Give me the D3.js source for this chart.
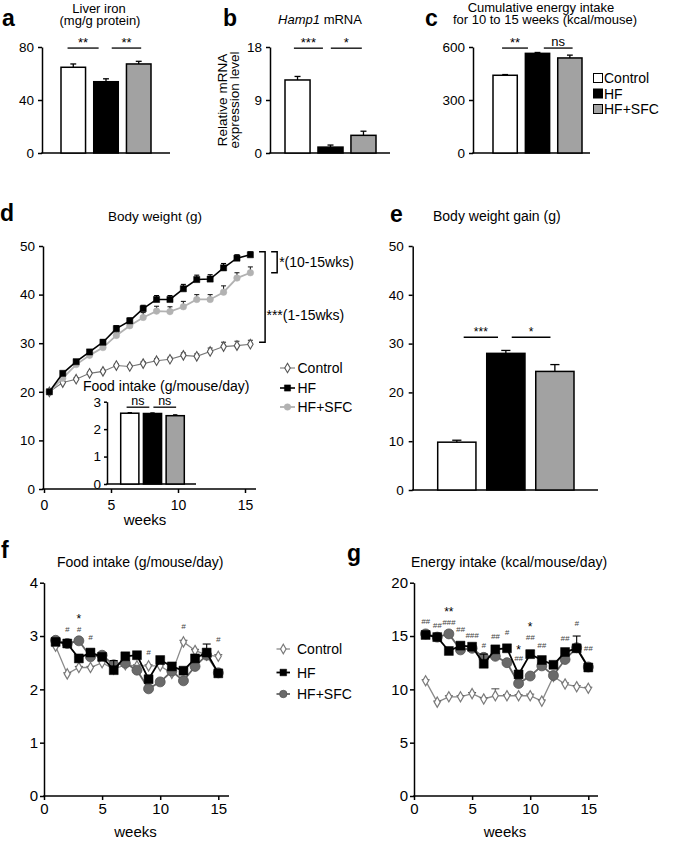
<!DOCTYPE html>
<html><head><meta charset="utf-8">
<script src="https://cdn.jsdelivr.net/npm/d3@7"></script>
<style>body{margin:0;background:#fff} svg{display:block}</style>
</head><body><svg id="c" width="685" height="844"></svg>
<script>
const FONT = '"Liberation Sans", Arial, Helvetica, sans-serif';
const groups = ["Control", "HF", "HF+SFC"];
const barFill = {"Control": "#ffffff", "HF": "#000000", "HF+SFC": "#a2a2a2"};

// a: liver iron
const liverIron = [64.7, 53.8, 67.2];
const liverIronErr = [2.5, 2.2, 2.0];
const liverTicks = [0, 40, 80];
const liverSig = [{a: 0.2, b: 1.15, y: 79.2, label: "**"}, {a: 1.55, b: 2.45, y: 79.2, label: "**"}];
// b: Hamp1
const hamp1 = [12.4, 1.0, 3.0];
const hamp1Err = [0.6, 0.35, 0.7];
const hampTicks = [0, 9, 18];
const hampSig = [{a: 0.27, b: 1.15, y: 17.8, label: "***"}, {a: 1.39, b: 2.33, y: 17.8, label: "*"}];
// c: cumulative energy
const cumEnergy = [440, 564, 538];
const cumEnergyErr = [4, 5, 16];
const cumTicks = [0, 300, 600];
const cumSig = [{a: 0.28, b: 1.08, y: 594, label: "**"}, {a: 1.57, b: 2.46, y: 594, label: "ns"}];
// d: body weight
const bwWeeks = [0.4, 1.4, 2.4, 3.4, 4.4, 5.4, 6.4, 7.4, 8.4, 9.4, 10.4, 11.4, 12.4, 13.4, 14.4, 15.4];
const bwControl = [20, 21.9, 22.6, 23.8, 24.2, 25.4, 25.2, 25.8, 26.4, 26.7, 27.5, 27.3, 28.3, 29.3, 29.5, 29.8];
const bwHF = [20, 23.8, 26.2, 28.2, 30.2, 33.0, 34.6, 37.1, 39.0, 39.0, 41.2, 43.1, 43.2, 45.5, 47.5, 48.2];
const bwSFC = [20, 22.8, 25.6, 27.5, 29.1, 31.6, 33.6, 35.3, 36.6, 36.5, 37.5, 39.0, 39.0, 40.5, 43.4, 44.5];
const bwControlErr = [0.2, 0.3, 0.3, 0.3, 0.3, 0.3, 0.3, 0.4, 0.4, 0.4, 0.5, 0.5, 0.7, 0.9, 0.9, 0.8];
const bwHFErr = [0.2, 0.4, 0.4, 0.5, 0.5, 0.6, 0.6, 0.7, 0.8, 0.8, 0.9, 0.9, 0.9, 0.9, 0.7, 0.6];
const bwSFCErr = [0.2, 0.4, 0.5, 0.5, 0.6, 0.7, 0.8, 1.0, 1.0, 1.0, 1.1, 1.0, 1.0, 1.3, 1.1, 1.2];
const bwYTicks = [0, 10, 20, 30, 40, 50];
const weekTicks = [0, 5, 10, 15];
// d inset: food intake
const foodMean = [2.58, 2.57, 2.49];
const foodMeanErr = [0.02, 0.02, 0.03];
const foodTicks = [0, 1, 2, 3];
const foodSig = [{a: 0.26, b: 1.26, y: 2.8, label: "ns"}, {a: 1.44, b: 2.44, y: 2.8, label: "ns"}];
// e: body weight gain
const bwGain = [9.8, 28.0, 24.3];
const bwGainErr = [0.4, 0.6, 1.4];
const gainTicks = [0, 10, 20, 30, 40, 50];
const gainSig = [{a: 0.53, b: 1.23, y: 31.3, label: "***"}, {a: 1.51, b: 2.30, y: 31.3, label: "*"}];
// f: weekly food intake
const weeksFG = [1, 2, 3, 4, 5, 6, 7, 8, 9, 10, 11, 12, 13, 14, 15];
const foodCtrl = [2.81, 2.29, 2.41, 2.41, 2.50, 2.38, 2.46, 2.44, 2.44, 2.44, 2.30, 2.89, 2.73, 2.64, 2.62];
const foodHF = [2.89, 2.86, 2.58, 2.69, 2.61, 2.36, 2.62, 2.64, 2.19, 2.55, 2.43, 2.35, 2.58, 2.69, 2.30];
const foodSFC = [2.92, 2.86, 2.91, 2.61, 2.64, 2.46, 2.49, 2.36, 2.01, 2.14, 2.34, 2.16, 2.43, 2.64, 2.31];
const foodCtrlErr = [0.02, 0.02, 0.02, 0.02, 0.02, 0.03, 0.02, 0.02, 0.02, 0.02, 0.02, 0.03, 0.02, 0.03, 0.03];
const foodHFErr = [0.03, 0.03, 0.03, 0.03, 0.03, 0.18, 0.03, 0.03, 0.04, 0.05, 0.03, 0.04, 0.03, 0.16, 0.04];
const foodSFCErr = [0.03, 0.03, 0.03, 0.03, 0.03, 0.05, 0.03, 0.03, 0.03, 0.03, 0.03, 0.03, 0.03, 0.05, 0.03];
const foodWkTicks = [0, 1, 2, 3, 4];
const foodMarks = [
  {w: 2, y: 3.13, label: "#"}, {w: 3, y: 3.13, label: "#"}, {w: 3, y: 3.37, label: "*"},
  {w: 4, y: 2.98, label: "#"}, {w: 9, y: 2.70, label: "#"}, {w: 12, y: 3.19, label: "#"}, {w: 15, y: 2.95, label: "#"}
];
// g: weekly energy intake
const energyCtrl = [10.8, 8.8, 9.3, 9.3, 9.6, 9.1, 9.4, 9.4, 9.4, 9.4, 8.9, 11.2, 10.5, 10.25, 10.1];
const energyHF = [15.1, 14.9, 13.6, 14.1, 14.0, 12.4, 13.75, 13.85, 11.4, 13.3, 12.75, 12.3, 13.5, 13.85, 12.05];
const energySFC = [15.2, 14.9, 15.2, 13.7, 13.85, 13.0, 13.1, 12.5, 10.55, 11.25, 12.2, 11.3, 12.8, 13.9, 12.1];
const energyCtrlErr = [0.1, 0.1, 0.1, 0.1, 0.1, 0.1, 0.65, 0.1, 0.1, 0.15, 0.1, 0.1, 0.1, 0.1, 0.1];
const energyHFErr = [0.2, 0.15, 0.15, 0.15, 0.15, 0.9, 0.2, 0.15, 0.2, 0.35, 0.2, 0.2, 0.2, 1.15, 0.2];
const energySFCErr = [0.15, 0.15, 0.15, 0.15, 0.15, 0.3, 0.15, 0.15, 0.2, 0.2, 0.2, 0.2, 0.2, 0.2, 0.2];
const energyTicks = [0, 5, 10, 15, 20];
const energyMarks = [
  {w: 1, y: 16.4, label: "##"}, {w: 2, y: 16.0, label: "##"}, {w: 3, y: 17.5, label: "**"}, {w: 3, y: 16.3, label: "###"},
  {w: 4, y: 15.65, label: "##"}, {w: 5, y: 15.1, label: "###"}, {w: 6, y: 14.2, label: "#"}, {w: 7, y: 15.0, label: "##"},
  {w: 8, y: 15.4, label: "#"}, {w: 9, y: 14.0, label: "*"}, {w: 9, y: 12.9, label: "##"}, {w: 10, y: 16.1, label: "*"},
  {w: 10, y: 14.9, label: "##"}, {w: 11, y: 14.15, label: "##"}, {w: 13, y: 14.8, label: "##"}, {w: 14, y: 16.2, label: "#"},
  {w: 15, y: 13.85, label: "##"}
];

const svg = d3.select("#c").attr("font-family", FONT);

function txt(x, y, s, o = {}) {
  const t = svg.append("text").attr("x", x).attr("y", y).text(s)
    .attr("font-size", o.size || 13).attr("text-anchor", o.anchor || "start").attr("fill", o.fill || "#000");
  if (o.weight) t.attr("font-weight", o.weight);
  if (o.style) t.attr("font-style", o.style);
  return t;
}
function styleAxis(sel, fs) {
  sel.attr("font-family", FONT);
  sel.selectAll("path.domain").attr("stroke", "#000").attr("stroke-width", 1.5);
  sel.selectAll(".tick line").attr("stroke", "#000").attr("stroke-width", 1.5);
  sel.selectAll(".tick text").attr("font-size", fs).attr("fill", "#000");
}
function hline(x1, x2, y, w = 1.5, c = "#000") {
  svg.append("line").attr("x1", x1).attr("x2", x2).attr("y1", y).attr("y2", y).attr("stroke", c).attr("stroke-width", w);
}
function vline(x, y1, y2, w = 1.5, c = "#000") {
  svg.append("line").attr("x1", x).attr("x2", x).attr("y1", y1).attr("y2", y2).attr("stroke", c).attr("stroke-width", w);
}
const intFmt = d3.format("d");

function barPanel(o) {
  const y = d3.scaleLinear().domain([0, o.max]).range([o.yb, o.yt]);
  const x = d3.scaleBand().domain(groups).range(o.xr).paddingInner(o.pi).paddingOuter(0);
  const ax = svg.append("g").attr("transform", `translate(${o.ax},0)`)
    .call(d3.axisLeft(y).tickValues(o.ticks).tickFormat(intFmt).tickSize(o.ts || 4).tickPadding(o.tp || 4).tickSizeOuter(0));
  styleAxis(ax, o.fs || 13.5);
  hline(o.ax - 0.75, o.xEnd, y(0));
  const bw = x.bandwidth();
  groups.forEach((k, i) => {
    const v = o.values[i], e = o.errors[i], cx = x(k) + bw / 2;
    svg.append("rect").attr("x", x(k)).attr("y", y(v)).attr("width", bw).attr("height", y(0) - y(v))
      .attr("fill", barFill[k]).attr("stroke", "#000").attr("stroke-width", 1.5);
    vline(cx, y(v), y(v + e), 1.3);
    hline(cx - bw * 0.12, cx + bw * 0.12, y(v + e), 1.3);
  });
  const bx = v => x(groups[0]) + v * x.step();
  o.sigs.forEach(s => {
    hline(bx(s.a), bx(s.b), y(s.y), 1.3);
    const isStar = s.label.indexOf("*") >= 0;
    txt((bx(s.a) + bx(s.b)) / 2, y(s.y) - (isStar ? 1 : 2.5), s.label, {anchor: "middle", size: o.sigSize || 13});
  });
  return {x, y};
}

// ---------- Panel a ----------
txt(2, 25.5, "a", {size: 23, weight: "bold"});
txt(99, 13, "Liver iron", {anchor: "middle", size: 13});
txt(100, 25, "(mg/g protein)", {anchor: "middle", size: 13});
barPanel({max: 80, yb: 153, yt: 47, xr: [61, 151], pi: 0.25, ax: 42, xEnd: 170, ticks: liverTicks,
  values: liverIron, errors: liverIronErr, sigs: liverSig});

// ---------- Panel b ----------
txt(223, 25.5, "b", {size: 23, weight: "bold"});
const tb = txt(320, 24, "", {anchor: "middle", size: 13});
tb.append("tspan").attr("font-style", "italic").text("Hamp1");
tb.append("tspan").text(" mRNA");
barPanel({max: 18, yb: 153, yt: 47, xr: [285, 376], pi: 0.24, ax: 270, xEnd: 390, ticks: hampTicks,
  values: hamp1, errors: hamp1Err, sigs: hampSig});
svg.append("text").attr("transform", "translate(227,100) rotate(-90)").attr("text-anchor", "middle")
  .attr("font-size", 13.5).text("Relative mRNA");
svg.append("text").attr("transform", "translate(238.5,100) rotate(-90)").attr("text-anchor", "middle")
  .attr("font-size", 13.5).text("expression level");

// ---------- Panel c ----------
txt(425, 25.5, "c", {size: 23, weight: "bold"});
txt(541, 12, "Cumulative energy intake", {anchor: "middle", size: 13});
txt(545, 24, "for 10 to 15 weeks (kcal/mouse)", {anchor: "middle", size: 13});
barPanel({max: 600, yb: 153, yt: 47, xr: [493, 582], pi: 0.25, ax: 473, xEnd: 590, ticks: cumTicks,
  values: cumEnergy, errors: cumEnergyErr, sigs: cumSig});
groups.forEach((k, i) => {
  const cy = 78 + i * 15.5;
  svg.append("rect").attr("x", 593.5).attr("y", cy - 4.5).attr("width", 9).attr("height", 9)
    .attr("fill", barFill[k]).attr("stroke", "#000").attr("stroke-width", 1);
  txt(604, cy + 5, k, {size: 14});
});

// ---------- Panel d ----------
txt(0, 221, "d", {size: 23, weight: "bold"});
txt(155, 220.5, "Body weight (g)", {anchor: "middle", size: 13.5});
const xD = d3.scaleLinear().domain([0, 15]).range([44, 245]);
const yD = d3.scaleLinear().domain([0, 50]).range([489, 246]);
const axDy = svg.append("g").attr("transform", "translate(43,0)")
  .call(d3.axisLeft(yD).tickValues(bwYTicks).tickFormat(intFmt).tickSize(4).tickPadding(4).tickSizeOuter(0));
styleAxis(axDy, 13.5);
const axDx = svg.append("g").attr("transform", "translate(0,489)")
  .call(d3.axisBottom(xD).tickValues(weekTicks).tickFormat(intFmt).tickSize(4).tickPadding(7).tickSizeOuter(0));
styleAxis(axDx, 14);
axDx.select("path.domain").remove();
hline(42.3, 256, 489);
txt(145, 525, "weeks", {anchor: "middle", size: 15});

function series(xs, ys, errs) { return xs.map((w, i) => ({w, v: ys[i], e: errs[i]})); }
function drawSeries(xS, yS, data, st) {
  const line = d3.line().x(d => xS(d.w)).y(d => yS(d.v));
  svg.append("path").datum(data).attr("d", line).attr("fill", "none").attr("stroke", st.line).attr("stroke-width", st.lw);
  data.forEach(d => {
    const cx = xS(d.w), y0 = yS(d.v), y1 = yS(d.v + d.e);
    vline(cx, y0, y1, 1.1, st.err);
    hline(cx - st.cap, cx + st.cap, y1, 1.1, st.err);
  });
  const sym = d3.symbol().type(st.sym).size(st.size);
  svg.append("g").selectAll("path").data(data).join("path")
    .attr("transform", d => `translate(${xS(d.w)},${yS(d.v)})`).attr("d", sym)
    .attr("fill", st.fill).attr("stroke", st.stroke).attr("stroke-width", st.sw);
}
const stD = {
  "Control": {line: "#777", lw: 1.1, sym: d3.symbolDiamond, size: 26, fill: "#fff", stroke: "#555", sw: 1.1, err: "#333", cap: 2.5},
  "HF": {line: "#000", lw: 1.6, sym: d3.symbolSquare, size: 38, fill: "#000", stroke: "#000", sw: 0.5, err: "#000", cap: 2.5},
  "HF+SFC": {line: "#b2b2b2", lw: 1.8, sym: d3.symbolCircle, size: 34, fill: "#b2b2b2", stroke: "#b2b2b2", sw: 0.5, err: "#222", cap: 2.5}
};
drawSeries(xD, yD, series(bwWeeks, bwControl, bwControlErr), stD["Control"]);
drawSeries(xD, yD, series(bwWeeks, bwSFC, bwSFCErr), stD["HF+SFC"]);
drawSeries(xD, yD, series(bwWeeks, bwHF, bwHFErr), stD["HF"]);
// brackets
function bracket(xa, xb, va, vb) {
  const p = `M${xD(xa)},${yD(va)}H${xD(xb)}V${yD(vb)}H${xD(xa)}`;
  svg.append("path").attr("d", p).attr("fill", "none").attr("stroke", "#000").attr("stroke-width", 1.5);
}
bracket(16.05, 16.5, 48.8, 30.2);
bracket(16.95, 17.4, 48.8, 44.5);
txt(xD(17.55), yD(46.65) + 5, "*(10-15wks)", {size: 14});
txt(xD(16.6), yD(35.8) + 5, "***(1-15wks)", {size: 14});
// legend d
groups.forEach((k, i) => {
  const cy = [368, 388, 407][i];
  const st = stD[k];
  hline(280, 295, cy, st.lw, st.line);
  svg.append("path").attr("transform", `translate(287.5,${cy})`).attr("d", d3.symbol().type(st.sym).size(st.size))
    .attr("fill", st.fill).attr("stroke", st.stroke).attr("stroke-width", st.sw);
  txt(297.5, cy + 5, k, {size: 14});
});
// inset
txt(83, 391, "Food intake (g/mouse/day)", {size: 14});
barPanel({max: 3, yb: 484, yt: 401.7, xr: [120.7, 184.3], pi: 0.2, ax: 107, xEnd: 196, ticks: foodTicks,
  values: foodMean, errors: foodMeanErr, sigs: foodSig, ts: 3, tp: 3, fs: 13.5, sigSize: 12.5});

// ---------- Panel e ----------
txt(390, 221.5, "e", {size: 23, weight: "bold"});
txt(433, 221, "Body weight gain (g)", {size: 14});
barPanel({max: 50, yb: 490, yt: 246, xr: [437.7, 574], pi: 0.22, ax: 412.7, xEnd: 598, ticks: gainTicks,
  values: bwGain, errors: bwGainErr, sigs: gainSig, tp: 5, fs: 13.5, sigSize: 12});

// ---------- Panels f & g ----------
const stFG = {
  "Control": {line: "#8a8a8a", lw: 1.3, sym: d3.symbolDiamond, size: 30, fill: "#fff", stroke: "#7a7a7a", sw: 1.2, err: "#555", cap: 4},
  "HF": {line: "#000", lw: 1.8, sym: d3.symbolSquare, size: 80, fill: "#000", stroke: "#000", sw: 0.5, err: "#000", cap: 4},
  "HF+SFC": {line: "#666", lw: 1.8, sym: d3.symbolCircle, size: 78, fill: "#6a6a6a", stroke: "#555", sw: 0.8, err: "#333", cap: 4}
};
function linePanel(o) {
  const x = d3.scaleLinear().domain([0, 15]).range(o.xr);
  const y = d3.scaleLinear().domain([0, o.max]).range([796, 582.7]);
  const ay = svg.append("g").attr("transform", `translate(${o.xr[0]},0)`)
    .call(d3.axisLeft(y).tickValues(o.ticks).tickFormat(intFmt).tickSize(4).tickPadding(2).tickSizeOuter(0));
  styleAxis(ay, 15);
  const axx = svg.append("g").attr("transform", "translate(0,796)")
    .call(d3.axisBottom(x).tickValues(weekTicks).tickFormat(intFmt).tickSize(4).tickPadding(3).tickSizeOuter(0));
  styleAxis(axx, 15);
  axx.select("path.domain").remove();
  hline(o.xr[0] - 0.75, o.xEnd, 796);
  drawSeries(x, y, series(weeksFG, o.ctrl, o.ctrlErr), stFG["Control"]);
  drawSeries(x, y, series(weeksFG, o.sfc, o.sfcErr), stFG["HF+SFC"]);
  drawSeries(x, y, series(weeksFG, o.hf, o.hfErr), stFG["HF"]);
  o.marks.forEach(m => {
    if (m.label.indexOf("*") >= 0) {
      txt(x(m.w), y(m.y) + 7, m.label, {anchor: "middle", size: 12});
    } else {
      txt(x(m.w), y(m.y) + 3, m.label, {anchor: "middle", size: 8, style: "italic", fill: "#444"});
    }
  });
  txt((o.xr[0] + o.xEnd) / 2 - 1, 837, "weeks", {anchor: "middle", size: 15});
}
txt(1, 558, "f", {size: 23, weight: "bold"});
txt(57, 567, "Food intake (g/mouse/day)", {size: 14});
linePanel({xr: [44, 218.3], xEnd: 229, max: 4, ticks: foodWkTicks, ctrl: foodCtrl, hf: foodHF, sfc: foodSFC,
  ctrlErr: foodCtrlErr, hfErr: foodHFErr, sfcErr: foodSFCErr, marks: foodMarks});
groups.forEach((k, i) => {
  const cy = [649, 672.5, 694][i];
  const st = stFG[k];
  hline(276.5, 290, cy, st.lw, st.line);
  svg.append("path").attr("transform", `translate(283.3,${cy})`)
    .attr("d", d3.symbol().type(st.sym).size(k === "Control" ? 26 : 44))
    .attr("fill", st.fill).attr("stroke", st.stroke).attr("stroke-width", st.sw);
  txt(297, cy + 5, k, {size: 14});
});
txt(347, 561, "g", {size: 23, weight: "bold"});
txt(411, 567, "Energy intake (kcal/mouse/day)", {size: 14});
linePanel({xr: [414, 588.3], xEnd: 598, max: 20, ticks: energyTicks, ctrl: energyCtrl, hf: energyHF, sfc: energySFC,
  ctrlErr: energyCtrlErr, hfErr: energyHFErr, sfcErr: energySFCErr, marks: energyMarks});
</script>
</body></html>
